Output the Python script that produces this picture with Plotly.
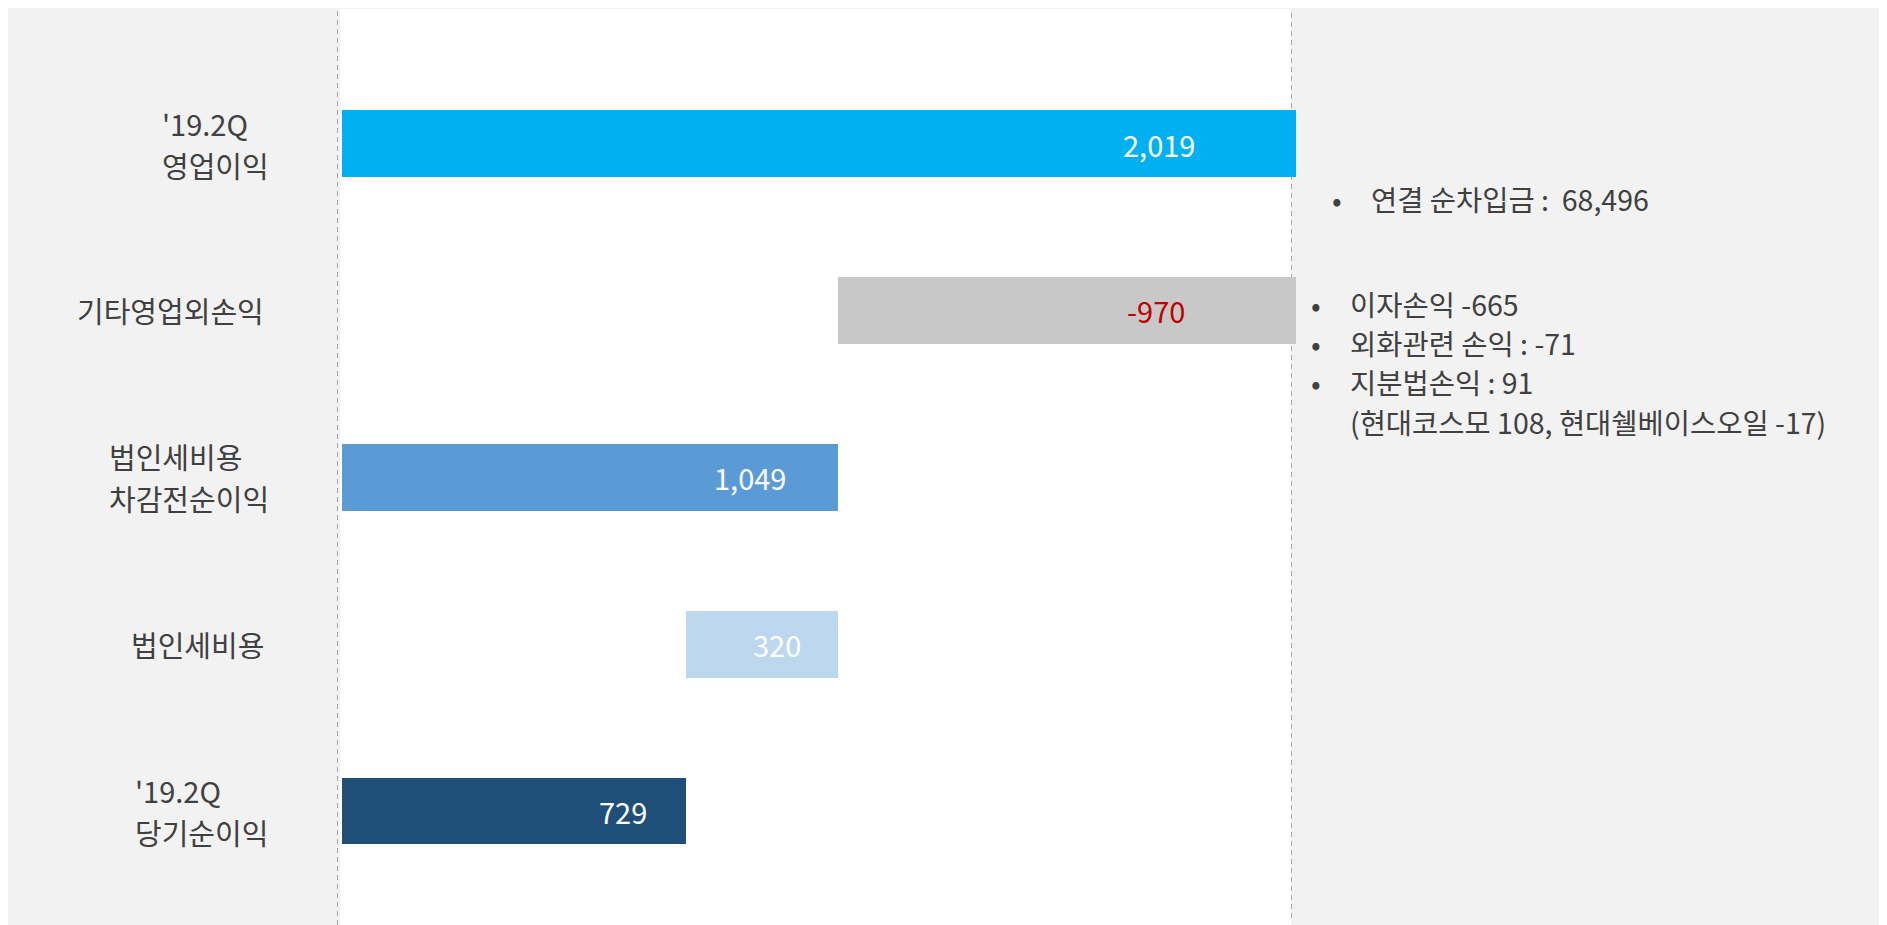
import plotly.graph_objects as go

# ---------------- data ----------------
categories = ["'19.2Q\n영업이익", "기타영업외손익", "법인세비용\n차감전순이익", "법인세비용", "'19.2Q\n당기순이익"]
values = [2019, -970, 1049, -320, 729]
measures = ["absolute", "relative", "total", "relative", "total"]
value_labels = ["2,019", "-970", "1,049", "320", "729"]

note_group1 = ["연결 순차입금 :  68,496"]
note_group2 = ["이자손익 -665", "외화관련 손익 : -71", "지분법손익 : 91"]
note_sub = "(현대코스모 108, 현대쉘베이스오일 -17)"

# ---------------- styles ----------------
bar_colors = ["#00B0F0", "#C8C8C8", "#5B9BD5", "#BDD7EE", "#1F4E79"]
label_colors = ["#FFFFFF", "#C00000", "#FFFFFF", "#FFFFFF", "#FFFFFF"]
label_shift = [-99, -109, -50, -35, -37]
# left edge (page px) of the two-line category label blocks; None = right-aligned single line
cat_left_px = [160, None, 107, None, 133]
CAT_RIGHT_PX = 266
LINE_GAP = 21
FONT = "Noto Sans CJK KR"
TXT = "#404040"
BG = "#F2F2F2"

OFF = 8                      # page offset of the figure (body margin)
W, H = 1887 - OFF, 925 - OFF  # figure size
# plot area in page pixels
PL, PR, PT, PB = 337, 1300, OFF, 925


def px_x(px):
    return (px - PL) / (PR - PL)


def px_y(py):
    return (PB - py) / (PB - PT)


# waterfall bases computed from the values
bases, lengths = [], []
running = 0
for v, m in zip(values, measures):
    if m == "absolute":
        bases.append(0)
        lengths.append(v)
        running = v
    elif m == "total":
        bases.append(0)
        lengths.append(running)
    else:
        new = running + v
        bases.append(min(running, new))
        lengths.append(abs(v))
        running = new

fig = go.Figure()
fig.add_trace(go.Bar(
    y=categories, x=lengths, base=bases, orientation="h",
    marker=dict(color=bar_colors, line=dict(width=0)),
    width=0.4, hoverinfo="skip", showlegend=False,
))

annotations = []
# value labels at the bar ends
for c, b, l, t, col, sh in zip(categories, bases, lengths, value_labels, label_colors, label_shift):
    annotations.append(dict(
        x=b + l, y=c, xref="x", yref="y", text=t, showarrow=False,
        xanchor="right", yanchor="middle", xshift=sh,
        font=dict(family=FONT, size=29, color=col),
    ))
# category labels
cat_font = dict(family=FONT, size=29, color=TXT)
for c, left in zip(categories, cat_left_px):
    lines = c.split("\n")
    if len(lines) == 1:
        annotations.append(dict(
            x=px_x(CAT_RIGHT_PX), y=c, xref="paper", yref="y", text=lines[0],
            showarrow=False, xanchor="right", yanchor="middle", font=cat_font,
        ))
    else:
        n = len(lines)
        for i, ln in enumerate(lines):
            annotations.append(dict(
                x=px_x(left), y=c, xref="paper", yref="y", text=ln,
                showarrow=False, xanchor="left", yanchor="middle",
                yshift=LINE_GAP * (n - 1 - 2 * i), font=cat_font,
            ))
# notes on the right
note_font = dict(family=FONT, size=28.5, color=TXT)
for i, t in enumerate(note_group1):
    py = 198 + i * 39
    annotations.append(dict(x=px_x(1337), y=px_y(py), xref="paper", yref="paper", text="•",
                            showarrow=False, xanchor="center", yanchor="middle", font=note_font))
    annotations.append(dict(x=px_x(1369), y=px_y(py), xref="paper", yref="paper", text=t,
                            showarrow=False, xanchor="left", yanchor="middle", font=note_font))
for i, t in enumerate(note_group2):
    py = 304 + i * 39
    annotations.append(dict(x=px_x(1316), y=px_y(py), xref="paper", yref="paper", text="•",
                            showarrow=False, xanchor="center", yanchor="middle", font=note_font))
    annotations.append(dict(x=px_x(1348), y=px_y(py), xref="paper", yref="paper", text=t,
                            showarrow=False, xanchor="left", yanchor="middle", font=note_font))
annotations.append(dict(x=px_x(1348), y=px_y(304 + 3 * 39), xref="paper", yref="paper", text=note_sub,
                        showarrow=False, xanchor="left", yanchor="middle", font=note_font))

shapes = [
    # white chart area
    dict(type="rect", xref="paper", yref="paper", x0=px_x(340), x1=px_x(1291), y0=px_y(925), y1=px_y(9),
         fillcolor="#FFFFFF", line=dict(width=0), layer="below"),
    # dashed boundaries
    dict(type="line", xref="paper", yref="paper", x0=px_x(337.5), x1=px_x(337.5), y0=px_y(925), y1=px_y(9),
         line=dict(color="#A6A6A6", width=1, dash="5px,4px"), layer="below"),
    dict(type="line", xref="paper", yref="paper", x0=px_x(1291.5), x1=px_x(1291.5), y0=px_y(918), y1=px_y(9),
         line=dict(color="#A6A6A6", width=1, dash="5px,4px"), layer="below"),
]

k = 954 / 2019  # px per unit
x0 = -(342 - PL) / k
x1 = x0 + (PR - PL) / k
cat_px = 166.9
y_top = -(143.5 - PT) / cat_px
y_bot = (PB - 143.5) / cat_px

fig.update_layout(
    width=W, height=H,
    margin=dict(l=PL - OFF, r=(W + OFF) - PR, t=PT - OFF, b=(H + OFF) - PB, pad=0),
    paper_bgcolor=BG, plot_bgcolor="rgba(0,0,0,0)",
    xaxis=dict(range=[x0, x1], visible=False, fixedrange=True),
    yaxis=dict(range=[y_bot, y_top], visible=False, categoryorder="array",
               categoryarray=categories, fixedrange=True),
    shapes=shapes, annotations=annotations,
    bargap=0, showlegend=False, hovermode=False,
    font=dict(family=FONT),
)

fig.write_html("out.html", config={"displayModeBar": False})
